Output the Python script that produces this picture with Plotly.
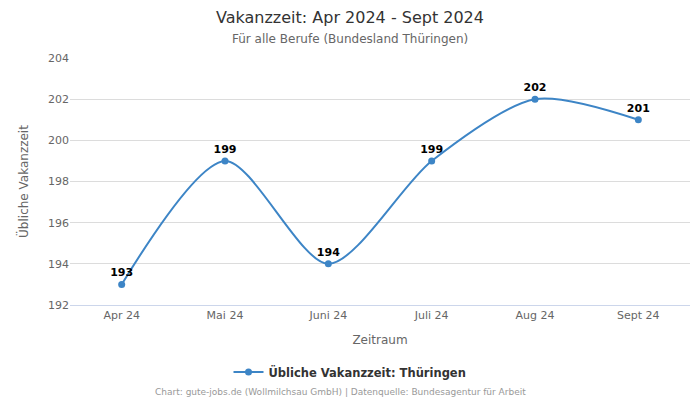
import plotly.graph_objects as go

categories = ["Apr 24", "Mai 24", "Juni 24", "Juli 24", "Aug 24", "Sept 24"]
values = [193, 199, 194, 199, 202, 201]
y_ticks = [192, 194, 196, 198, 200, 202, 204]

FONT = "DejaVu Sans"
CX = (350 - 70) / 620
fig = go.Figure()
fig.add_trace(go.Scatter(
    x=categories, y=values, mode="lines+markers+text",
    line=dict(color="#3d85c6", width=2, shape="spline", smoothing=0.8),
    marker=dict(color="#3d85c6", size=7),
    text=[f"<b>{v}</b>" for v in values], textposition="top center",
    textfont=dict(family=FONT, size=11, color="#000000"),
    name="<b>Übliche Vakanzzeit: Thüringen</b>",
    cliponaxis=False,
))
fig.update_layout(
    width=700, height=400,
    margin=dict(l=70, r=10, t=58, b=95),
    plot_bgcolor="white", paper_bgcolor="white",
    font=dict(family=FONT, color="#666666"),
    title=dict(text="Vakanzzeit: Apr 2024 - Sept 2024", x=0.5, xanchor="center",
               y=1 - 17/400, yanchor="middle",
               font=dict(family=FONT, size=16, color="#333333")),
    showlegend=True,
    legend=dict(orientation="h", x=CX, xanchor="center", y=-(372-305)/247, yanchor="middle",
                font=dict(family=FONT, size=11.5, color="#333333"), itemwidth=30),
    xaxis=dict(type="category", range=[-0.5, 5.5], showgrid=False,
               showline=True, linecolor="#ccd6eb", linewidth=1,
               ticks="", tickfont=dict(family=FONT, size=11, color="#666666"),
               title=dict(text="Zeitraum", font=dict(family=FONT, size=12, color="#666666"), standoff=14)),
    yaxis=dict(range=[192, 204], tickvals=y_ticks, showgrid=True, gridcolor="#dcdcdc",
               zeroline=False, showline=False, ticks="",
               tickfont=dict(family=FONT, size=11, color="#666666"),
               title=dict(text="Übliche Vakanzzeit", font=dict(family=FONT, size=12, color="#666666"), standoff=16)),
    annotations=[
        dict(text="Für alle Berufe (Bundesland Thüringen)", xref="paper", yref="paper",
             x=CX, y=1 + (58 - 39)/247, xanchor="center", yanchor="middle", showarrow=False,
             font=dict(family=FONT, size=12, color="#666666")),
        dict(text="Chart: gute-jobs.de (Wollmilchsau GmbH) | Datenquelle: Bundesagentur für Arbeit",
             xref="paper", yref="paper", x=(340-70)/620, y=-(392-305)/247, xanchor="center", yanchor="middle",
             showarrow=False, font=dict(family=FONT, size=9, color="#999999")),
    ],
)
fig.write_html("out.html")
